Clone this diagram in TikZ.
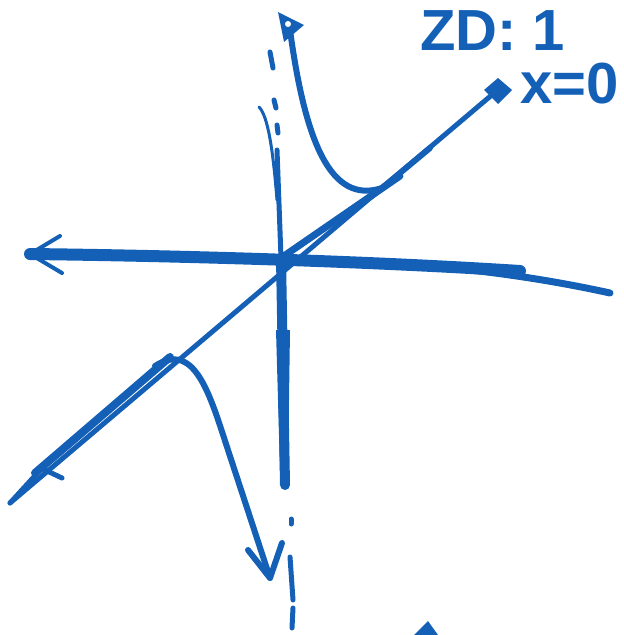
\documentclass[tikz,border=0pt]{standalone}
\usepackage{fontspec}
\setmainfont{Liberation Sans}
\usetikzlibrary{arrows.meta}
\definecolor{ink}{RGB}{20,96,182}
\begin{document}
\begin{tikzpicture}[x=1pt,y=-1pt,line cap=round,line join=round,
  pen/.style={draw=ink,line width=#1},
  pen/.default=5,
  txt/.style={text=ink,inner sep=0pt,anchor=base west,font=\bfseries\fontsize{58}{58}\selectfont}]
\useasboundingbox (0,0) rectangle (624,635);
% named points
\coordinate (hl) at (30,254);
\coordinate (hr) at (520,271);
\coordinate (ht) at (610,293);
\coordinate (o) at (281,258);
\coordinate (vb) at (285,485);
\coordinate (sl) at (10,503);
\coordinate (su) at (500,88);
\coordinate (utop) at (290,30);
\coordinate (umeet) at (382,188);
\coordinate (ujoin) at (430,148);
\coordinate (lmeet) at (155,366);
\coordinate (ltip) at (270,578);
% horizontal axis
\draw[pen=12] (hl) .. controls (200,256) and (380,262) .. (hr);
\draw[pen=7] (430,266) .. controls (500,272) and (560,282) .. (ht);
\draw[pen=4] (hl) -- (60,236);
\draw[pen=4] (hl) -- (62,273);
% vertical axis
\draw[pen=3] (259,107) .. controls (268,116) and (273,150) .. (277,200);
\draw[pen=5] (277,150) -- (o);
\draw[pen=10] (o) -- (vb);
\fill[ink] (276,330) -- (290,330) -- (288,470) -- (280,470) -- cycle;
\draw[pen=5] (270,52) -- (273,68);
\draw[pen=5] (274,100) -- (276,108);
\draw[pen=5] (277,125) -- (278,133);
\draw[pen=5] (291,519) -- (291,524);
\draw[pen=5] (290,557) -- (293,600);
\draw[pen=5] (293,608) -- (292,628);
% slant asymptote
\draw[pen=5] (sl) -- (su);
\draw[pen=8] (35,473) -- (170,357);
\draw[pen=7] (o) -- (400,176);
\fill[ink] (484,90) -- (498,78) -- (512,90) -- (498,104) -- cycle;
\draw[pen=5] (sl) -- (42,468);
\draw[pen=5] (45,470) -- (62,478);
% upper branch
\draw[pen=6] (utop) .. controls (305,140) and (330,205) .. (umeet) -- (ujoin);
\fill[ink] (278,12) -- (304,25) -- (284,42) -- cycle;
\fill[white] (288,24) circle (3);
% lower branch
\draw[pen=6] (lmeet) .. controls (195,340) and (210,395) .. (228,450) -- (ltip);
\draw[pen=6] (248,550) -- (ltip) -- (282,543);
% small mark at bottom edge
\fill[ink] (414,635) -- (428,621) -- (438,635) -- cycle;
% labels
\node[txt] (zd) at (420,50) {ZD: 1};
\node[txt] (xz) at (520,103) {x=0};
\end{tikzpicture}
\end{document}
